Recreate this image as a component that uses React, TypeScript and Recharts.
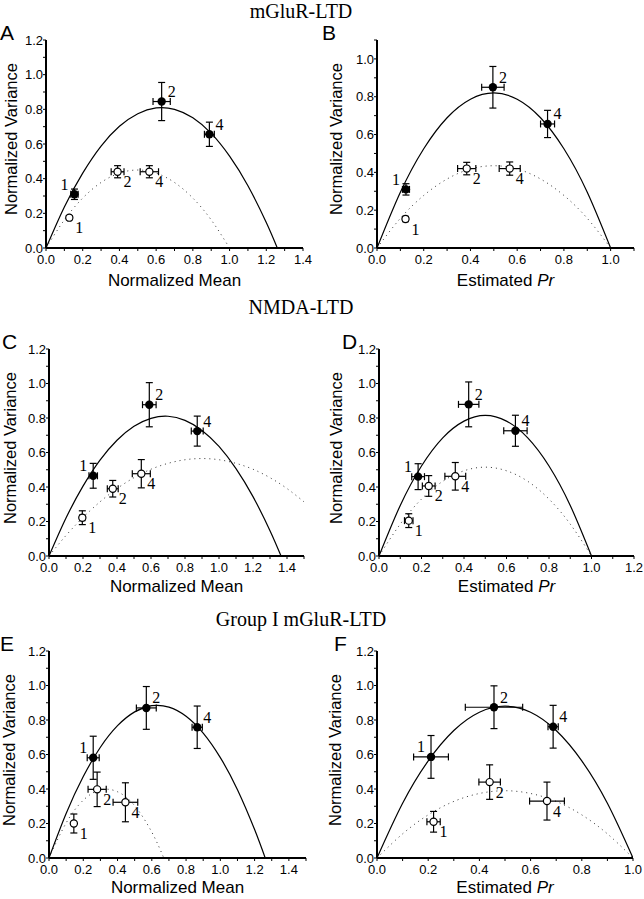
import { ComposedChart, Line, Scatter, XAxis, YAxis, ErrorBar } from "recharts";

const pointLabels = ["1", "2", "4"];

// A: mGluR-LTD, variance vs mean
const aFilledX = [0.155, 0.63, 0.89];
const aFilledY = [0.31, 0.845, 0.656];
const aFilledXErr = [0.02, 0.047, 0.027];
const aFilledYErr = [0.03, 0.11, 0.07];
const aOpenX = [0.127, 0.39, 0.563];
const aOpenY = [0.175, 0.44, 0.44];
const aOpenXErr = [0.01, 0.035, 0.05];
const aOpenYErr = [0.012, 0.035, 0.035];
const aFitX = [0, 0.1, 0.2, 0.3, 0.4, 0.5, 0.6, 0.7, 0.8, 0.9, 1.0, 1.1, 1.2, 1.26];
const aFitY = [0, 0.237, 0.432, 0.588, 0.702, 0.775, 0.808, 0.8, 0.751, 0.661, 0.53, 0.359, 0.147, 0];
const aDotX = [0, 0.1, 0.2, 0.3, 0.4, 0.5, 0.6, 0.7, 0.8, 0.9, 1.0];
const aDotY = [0, 0.162, 0.288, 0.378, 0.432, 0.45, 0.432, 0.378, 0.288, 0.162, 0];

// B: mGluR-LTD, variance vs Pr
const bFilledX = [0.124, 0.496, 0.73];
const bFilledY = [0.31, 0.85, 0.656];
const bFilledXErr = [0.015, 0.048, 0.03];
const bFilledYErr = [0.03, 0.11, 0.072];
const bOpenX = [0.122, 0.384, 0.568];
const bOpenY = [0.153, 0.42, 0.42];
const bOpenXErr = [0.01, 0.039, 0.045];
const bOpenYErr = [0.012, 0.033, 0.035];
const prX = [0, 0.1, 0.2, 0.3, 0.4, 0.5, 0.6, 0.7, 0.8, 0.9, 1.0];
const bFitY = [0, 0.295, 0.525, 0.689, 0.787, 0.82, 0.787, 0.689, 0.525, 0.295, 0];
const bDotY = [0, 0.157, 0.278, 0.365, 0.418, 0.435, 0.418, 0.365, 0.278, 0.157, 0];

// C: NMDA-LTD, variance vs mean
const cFilledX = [0.26, 0.59, 0.872];
const cFilledY = [0.465, 0.877, 0.724];
const cFilledXErr = [0.025, 0.04, 0.035];
const cFilledYErr = [0.072, 0.128, 0.087];
const cOpenX = [0.196, 0.375, 0.543];
const cOpenY = [0.222, 0.39, 0.477];
const cOpenXErr = [0.015, 0.032, 0.053];
const cOpenYErr = [0.04, 0.048, 0.082];
const cFitX = [0, 0.1, 0.2, 0.3, 0.4, 0.5, 0.6, 0.7, 0.8, 0.9, 1.0, 1.1, 1.2, 1.3, 1.365];
const cFitY = [0, 0.22, 0.405, 0.556, 0.671, 0.752, 0.798, 0.81, 0.786, 0.728, 0.635, 0.507, 0.344, 0.147, 0];
const cDotX = [0, 0.1, 0.2, 0.3, 0.4, 0.5, 0.6, 0.7, 0.8, 0.9, 1.0, 1.1, 1.2, 1.3, 1.4, 1.5];
const cDotY = [0, 0.119, 0.223, 0.314, 0.391, 0.454, 0.503, 0.537, 0.558, 0.565, 0.558, 0.537, 0.503, 0.454, 0.391, 0.314];

// D: NMDA-LTD, variance vs Pr
const dFilledX = [0.184, 0.422, 0.642];
const dFilledY = [0.46, 0.879, 0.726];
const dFilledXErr = [0.03, 0.048, 0.055];
const dFilledYErr = [0.075, 0.13, 0.09];
const dOpenX = [0.14, 0.234, 0.359];
const dOpenY = [0.205, 0.406, 0.462];
const dOpenXErr = [0.02, 0.03, 0.049];
const dOpenYErr = [0.04, 0.06, 0.08];
const dFitY = [0, 0.293, 0.522, 0.685, 0.782, 0.815, 0.782, 0.685, 0.522, 0.293, 0];
const dDotY = [0, 0.185, 0.33, 0.433, 0.494, 0.515, 0.494, 0.433, 0.33, 0.185, 0];

// E: Group I mGluR-LTD, variance vs mean
const eFilledX = [0.258, 0.568, 0.865];
const eFilledY = [0.581, 0.87, 0.758];
const eFilledXErr = [0.035, 0.058, 0.03];
const eFilledYErr = [0.125, 0.124, 0.123];
const eOpenX = [0.145, 0.281, 0.446];
const eOpenY = [0.2, 0.398, 0.323];
const eOpenXErr = [0.01, 0.053, 0.072];
const eOpenYErr = [0.055, 0.1, 0.113];
const eFitX = [0, 0.1, 0.2, 0.3, 0.4, 0.5, 0.6, 0.7, 0.8, 0.9, 1.0, 1.1, 1.2, 1.262];
const eFitY = [0, 0.258, 0.472, 0.642, 0.767, 0.847, 0.883, 0.875, 0.822, 0.724, 0.582, 0.396, 0.165, 0];
const eDotX = [0, 0.1, 0.2, 0.3, 0.4, 0.5, 0.6, 0.67];
const eDotY = [0, 0.203, 0.335, 0.395, 0.384, 0.303, 0.15, 0];

// F: Group I mGluR-LTD, variance vs Pr
const fFilledX = [0.211, 0.457, 0.688];
const fFilledY = [0.586, 0.874, 0.761];
const fFilledXErr = [0.068, 0.112, 0.02];
const fFilledYErr = [0.124, 0.124, 0.124];
const fOpenX = [0.221, 0.44, 0.664];
const fOpenY = [0.21, 0.44, 0.33];
const fOpenXErr = [0.026, 0.042, 0.068];
const fOpenYErr = [0.06, 0.1, 0.11];
const fFitY = [0, 0.317, 0.563, 0.739, 0.845, 0.88, 0.845, 0.739, 0.563, 0.317, 0];
const fDotY = [0, 0.14, 0.25, 0.328, 0.374, 0.39, 0.374, 0.328, 0.25, 0.14, 0];

// axis ticks (minor ticks get empty labels)
const ticks10 = [0, 0.1, 0.2, 0.3, 0.4, 0.5, 0.6, 0.7, 0.8, 0.9, 1.0];
const ticks11 = [...ticks10, 1.1];
const ticks12 = [...ticks11, 1.2];
const ticks14 = [...ticks12, 1.3, 1.4];
const ticks15 = [...ticks14, 1.5];

const pts = (xs: number[], ys: number[], exs: number[], eys: number[]) =>
  xs.map((x, i) => ({ x, y: ys[i], ex: exs[i], ey: eys[i], n: pointLabels[i] }));
const curve = (xs: number[], ys: number[]) => xs.map((x, i) => ({ x, y: ys[i] }));

const tickFmt = (v: number) => (Math.round(v * 10) % 2 === 0 ? v.toFixed(1) : "");

const SANS = "'Liberation Sans', Arial, sans-serif";
const SERIF = "'Liberation Serif', 'Times New Roman', serif";

function FilledDot(props: any) {
  const { cx, cy, payload } = props;
  const dx = payload.n === "1" ? -10 : 10;
  return (
    <g>
      <circle cx={cx} cy={cy} r={4.2} fill="#000" />
      <text x={cx + dx} y={cy - 10} textAnchor="middle" dominantBaseline="central" fontFamily={SERIF} fontSize={16} fill="#000">
        {payload.n}
      </text>
    </g>
  );
}

function OpenDot(props: any) {
  const { cx, cy, payload } = props;
  return (
    <g>
      <circle cx={cx} cy={cy} r={3.6} fill="#fff" stroke="#000" strokeWidth={1.2} />
      <text x={cx + 10} y={cy + 10} textAnchor="middle" dominantBaseline="central" fontFamily={SERIF} fontSize={16} fill="#000">
        {payload.n}
      </text>
    </g>
  );
}

interface PanelProps {
  letter: string;
  letterX: number;
  plotX: number;
  plotY: number;
  plotW: number;
  plotH: number;
  xMax: number;
  xTicks: number[];
  yMax: number;
  yTicks: number[];
  xLabel: "mean" | "pr";
  xLabelGap: number;
  yLabelX: number;
  fit: { x: number; y: number }[];
  dotted: { x: number; y: number }[];
  filled: any[];
  open: any[];
}

function Panel(p: PanelProps) {
  const padL = 40;
  const padT = 8;
  const padR = 14;
  const axisH = 26;
  const w = padL + p.plotW + padR;
  const h = padT + p.plotH + axisH;
  return (
    <>
      <div style={{ position: "absolute", left: p.plotX - padL, top: p.plotY - padT }}>
        <ComposedChart width={w} height={h} margin={{ top: padT, right: padR, bottom: 0, left: 0 }}>
          <XAxis
            type="number"
            dataKey="x"
            domain={[0, p.xMax]}
            ticks={p.xTicks}
            tickFormatter={tickFmt}
            interval={0}
            height={axisH}
            tickSize={3}
            tickMargin={4}
            allowDataOverflow
            axisLine={{ stroke: "#000", strokeWidth: 2 }}
            tickLine={{ stroke: "#000" }}
            tick={{ fill: "#000", fontSize: 13, fontFamily: SANS }}
          />
          <YAxis
            type="number"
            dataKey="y"
            domain={[0, p.yMax]}
            ticks={p.yTicks}
            tickFormatter={tickFmt}
            interval={0}
            width={padL}
            tickSize={3}
            tickMargin={0}
            allowDataOverflow
            axisLine={{ stroke: "#000", strokeWidth: 2 }}
            tickLine={{ stroke: "#000" }}
            tick={{ fill: "#000", fontSize: 13, fontFamily: SANS }}
          />
          <Line data={p.fit} dataKey="y" type="natural" stroke="#000" strokeWidth={1.2} dot={false} isAnimationActive={false} />
          <Line
            data={p.dotted}
            dataKey="y"
            type="natural"
            stroke="#333"
            strokeWidth={1}
            strokeDasharray="1 4"
            dot={false}
            isAnimationActive={false}
          />
          <Scatter data={p.filled} dataKey="y" shape={<FilledDot />} isAnimationActive={false}>
            <ErrorBar dataKey="ex" direction="x" width={3.5} stroke="#000" strokeWidth={1.2} />
            <ErrorBar dataKey="ey" direction="y" width={3.5} stroke="#000" strokeWidth={1.2} />
          </Scatter>
          <Scatter data={p.open} dataKey="y" shape={<OpenDot />} isAnimationActive={false}>
            <ErrorBar dataKey="ex" direction="x" width={3.5} stroke="#000" strokeWidth={1.2} />
            <ErrorBar dataKey="ey" direction="y" width={3.5} stroke="#000" strokeWidth={1.2} />
          </Scatter>
        </ComposedChart>
      </div>
      <div
        style={{
          position: "absolute",
          left: p.yLabelX,
          top: p.plotY + p.plotH / 2 - 5,
          width: 0,
          height: 0,
        }}
      >
        <div
          style={{
            position: "absolute",
            left: 0,
            top: 0,
            transform: "translate(-50%, -50%) rotate(-90deg)",
            whiteSpace: "nowrap",
            fontFamily: SANS,
            fontSize: 16.5,
            lineHeight: "16px",
          }}
        >
          Normalized Variance
        </div>
      </div>
      <div
        style={{
          position: "absolute",
          left: p.plotX + p.plotW / 2 - 100,
          top: p.plotY + p.plotH + p.xLabelGap - 10,
          width: 200,
          textAlign: "center",
          fontFamily: SANS,
          fontSize: 17,
          lineHeight: "19px",
        }}
      >
        {p.xLabel === "mean" ? "Normalized Mean" : (
          <>
            Estimated <i>Pr</i>
          </>
        )}
      </div>
      <div
        style={{
          position: "absolute",
          left: p.letterX,
          top: p.plotY - 18,
          fontFamily: SANS,
          fontSize: 21,
          lineHeight: "21px",
        }}
      >
        {p.letter}
      </div>
    </>
  );
}

function Title({ text, top }: { text: string; top: number }) {
  return (
    <div
      style={{
        position: "absolute",
        left: 0,
        width: 602,
        top,
        textAlign: "center",
        fontFamily: SERIF,
        fontSize: 20,
        lineHeight: "20px",
      }}
    >
      {text}
    </div>
  );
}

export default function App() {
  return (
    <div style={{ position: "absolute", left: 0, top: 0, width: 644, height: 899, background: "#fff", overflow: "hidden" }}>
      <Title text="mGluR-LTD" top={1} />
      <Title text="NMDA-LTD" top={297} />
      <Title text="Group I mGluR-LTD" top={609} />

      <Panel
        letter="A" letterX={0} plotX={46} plotY={40} plotW={257} plotH={208}
        xMax={1.4} xTicks={ticks14} yMax={1.2} yTicks={ticks12}
        xLabel="mean" xLabelGap={33} yLabelX={11}
        fit={curve(aFitX, aFitY)} dotted={curve(aDotX, aDotY)}
        filled={pts(aFilledX, aFilledY, aFilledXErr, aFilledYErr)}
        open={pts(aOpenX, aOpenY, aOpenXErr, aOpenYErr)}
      />
      <Panel
        letter="B" letterX={322} plotX={377} plotY={40} plotW={257} plotH={208}
        xMax={1.1} xTicks={ticks11} yMax={1.1} yTicks={ticks11}
        xLabel="pr" xLabelGap={33} yLabelX={336}
        fit={curve(prX, bFitY)} dotted={curve(prX, bDotY)}
        filled={pts(bFilledX, bFilledY, bFilledXErr, bFilledYErr)}
        open={pts(bOpenX, bOpenY, bOpenXErr, bOpenYErr)}
      />
      <Panel
        letter="C" letterX={2} plotX={49} plotY={349} plotW={255} plotH={207}
        xMax={1.5} xTicks={ticks15} yMax={1.2} yTicks={ticks12}
        xLabel="mean" xLabelGap={31} yLabelX={10}
        fit={curve(cFitX, cFitY)} dotted={curve(cDotX, cDotY)}
        filled={pts(cFilledX, cFilledY, cFilledXErr, cFilledYErr)}
        open={pts(cOpenX, cOpenY, cOpenXErr, cOpenYErr)}
      />
      <Panel
        letter="D" letterX={342} plotX={379} plotY={349} plotW={255} plotH={207}
        xMax={1.2} xTicks={ticks12} yMax={1.2} yTicks={ticks12}
        xLabel="pr" xLabelGap={31} yLabelX={336}
        fit={curve(prX, dFitY)} dotted={curve(prX, dDotY)}
        filled={pts(dFilledX, dFilledY, dFilledXErr, dFilledYErr)}
        open={pts(dOpenX, dOpenY, dOpenXErr, dOpenYErr)}
      />
      <Panel
        letter="E" letterX={0} plotX={49} plotY={651} plotW={257} plotH={207}
        xMax={1.5} xTicks={ticks15} yMax={1.2} yTicks={ticks12}
        xLabel="mean" xLabelGap={30} yLabelX={9}
        fit={curve(eFitX, eFitY)} dotted={curve(eDotX, eDotY)}
        filled={pts(eFilledX, eFilledY, eFilledXErr, eFilledYErr)}
        open={pts(eOpenX, eOpenY, eOpenXErr, eOpenYErr)}
      />
      <Panel
        letter="F" letterX={334} plotX={377} plotY={651} plotW={256} plotH={207}
        xMax={1.0} xTicks={ticks10} yMax={1.2} yTicks={ticks12}
        xLabel="pr" xLabelGap={30} yLabelX={335}
        fit={curve(prX, fFitY)} dotted={curve(prX, fDotY)}
        filled={pts(fFilledX, fFilledY, fFilledXErr, fFilledYErr)}
        open={pts(fOpenX, fOpenY, fOpenXErr, fOpenYErr)}
      />
    </div>
  );
}
